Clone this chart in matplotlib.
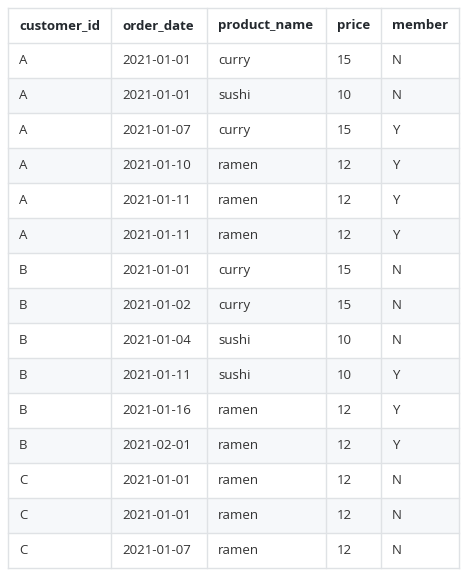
import matplotlib.pyplot as plt
from matplotlib.patches import Rectangle

columns = ["customer_id", "order_date", "product_name", "price", "member"]
customer_id = ["A", "A", "A", "A", "A", "A", "B", "B", "B", "B", "B", "B", "C", "C", "C"]
order_date = ["2021-01-01", "2021-01-01", "2021-01-07", "2021-01-10", "2021-01-11",
              "2021-01-11", "2021-01-01", "2021-01-02", "2021-01-04", "2021-01-11",
              "2021-01-16", "2021-02-01", "2021-01-01", "2021-01-01", "2021-01-07"]
product_name = ["curry", "sushi", "curry", "ramen", "ramen", "ramen", "curry", "curry",
                "sushi", "sushi", "ramen", "ramen", "ramen", "ramen", "ramen"]
price = ["15", "10", "15", "12", "12", "12", "15", "15", "10", "10", "12", "12", "12", "12", "12"]
member = ["N", "N", "Y", "Y", "Y", "Y", "N", "N", "N", "Y", "Y", "Y", "N", "N", "N"]

W, H = 467, 580
col_x = [8, 111, 207, 326, 381, 459]
top = 8
row_h = 35.0

fig = plt.figure(figsize=(W / 100, H / 100), dpi=100)
ax = fig.add_axes([0, 0, 1, 1])
ax.set_xlim(0, W)
ax.set_ylim(H, 0)
ax.axis("off")

rows = list(zip(customer_id, order_date, product_name, price, member))
border = "#dfe2e5"

for r in range(len(rows) + 1):
    y0 = top + r * row_h
    fill = "#f6f8fa" if r % 2 == 0 and r > 0 else "white"
    ax.add_patch(Rectangle((col_x[0], y0), col_x[-1] - col_x[0], row_h,
                           facecolor=fill, edgecolor="none"))
    vals = columns if r == 0 else rows[r - 1]
    for c, v in enumerate(vals):
        ax.text(col_x[c] + 11, y0 + row_h / 2, v, ha="left", va="center",
                fontsize=9.5, color="#24292e" if r == 0 else "#333333",
                fontweight="bold" if r == 0 else "normal",
                family=["Open Sans", "DejaVu Sans"])

bottom = top + (len(rows) + 1) * row_h
for r in range(len(rows) + 2):
    y = top + r * row_h
    ax.plot([col_x[0], col_x[-1]], [y, y], color=border, lw=1)
for x in col_x:
    ax.plot([x, x], [top, bottom], color=border, lw=1)

fig.savefig("out.png", dpi=100)
